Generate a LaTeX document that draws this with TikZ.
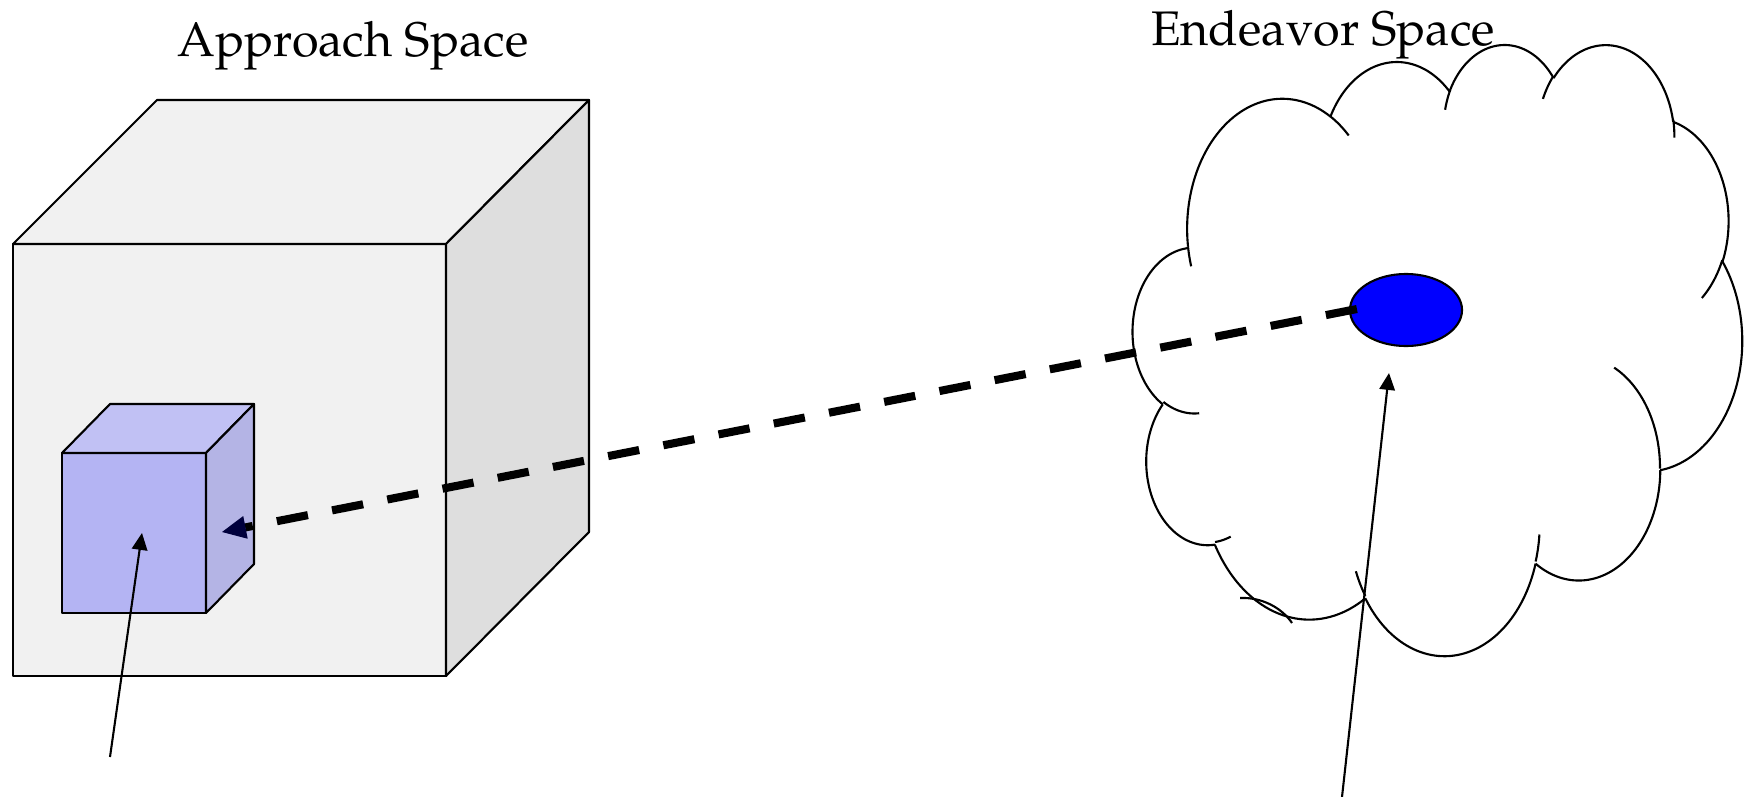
\documentclass[tikz,border=0pt]{standalone}
\usepackage[T1]{fontenc}
\usepackage{palatino}
\usetikzlibrary{arrows.meta,shapes.geometric,calc}

\definecolor{facefront}{gray}{0.945}
\definecolor{faceside}{gray}{0.87}
\definecolor{smallfront}{RGB}{180,180,243}
\definecolor{smalltop}{RGB}{193,193,244}
\definecolor{smallside}{RGB}{180,180,229}
\definecolor{tipnavy}{RGB}{0,0,60}

% Cloud outline: a chain of elliptical arcs on a 4320-unit grid.
% \cloudarc{x radius}{y radius}{start angle}{sweep}, angles measured
% as directions from the arc centre (y pointing down).
\newcommand\cloudfrom[2]{\xdef\cpx{#1}\xdef\cpy{#2}}
\newcommand\cloudarc[4]{%
  \pgfmathsetmacro\cta{atan2((#1)*sin(#3),(#2)*cos(#3))}%
  \pgfmathsetmacro\ccx{\cpx-(#1)*cos(\cta)}%
  \pgfmathsetmacro\ccy{\cpy-(#2)*sin(\cta)}%
  \pgfmathsetmacro\ctb{atan2((#1)*sin(#3+#4),(#2)*cos(#3+#4))}%
  \pgfmathsetmacro\ctb{\ctb+360*round((\cta+#4-\ctb)/360)}%
  \draw[cloudline] plot[domain=\cta:\ctb,samples=60,variable=\t]
     ({\ccx+(#1)*cos(\t)},{\ccy+(#2)*sin(\t)});
  \pgfmathsetmacro\cpx{\ccx+(#1)*cos(\ctb)}\xdef\cpx{\cpx}%
  \pgfmathsetmacro\cpy{\ccy+(#2)*sin(\ctb)}\xdef\cpy{\cpy}%
}

\begin{document}
\begin{tikzpicture}[x=0.01cm, y=-0.01cm,
  cubeedge/.style={line width=0.6pt, line join=round},
  cloudline/.style={line width=0.6pt},
  thinarrow/.style={line width=0.6pt,
    -{Triangle[length=4.8pt,width=4.4pt]}},
  dashedarrow/.style={line width=2.3pt, dash pattern=on 9pt off 7pt,
    -{Triangle[length=6.8pt,width=6.5pt,line width=0.3pt,color=tipnavy,fill=tipnavy]}},
  spacetitle/.style={font=\fontsize{13.8}{16}\selectfont, anchor=base, inner sep=0pt}]
\useasboundingbox (0,0) rectangle (1748,797);

% large grey cube
\draw[cubeedge, fill=facefront] (13,244) rectangle (446,676);
\draw[cubeedge, fill=facefront] (13,244) -- (157,100) -- (589,100) -- (446,244) -- cycle;
\draw[cubeedge, fill=faceside] (446,244) -- (589,100) -- (589,532) -- (446,676) -- cycle;

% small blue cube inside it
\draw[cubeedge, fill=smallfront] (62,453) rectangle (206,613);
\draw[cubeedge, fill=smalltop] (62,453) -- (110,404) -- (254,404) -- (206,453) -- cycle;
\draw[cubeedge, fill=smallside] (206,453) -- (254,404) -- (254,564) -- (206,613) -- cycle;

% cloud
\begin{scope}[shift={(1133,43)}, xscale=0.14097, yscale=0.14144]
  \cloudfrom{390}{1437}
  \cloudarc{675.3}{919.0}{-190.4875}{123.7805}
  \cloudarc{533.3}{726.7}{-144.1024}{89.9452}
  \cloudarc{436.5}{594.5}{-145.8079}{99.7230}
  \cloudarc{485.7}{659.5}{-130.9861}{117.2417}
  \cloudarc{533.3}{727.3}{-78.7089}{109.0269}
  \cloudarc{677.5}{922.0}{-46.2673}{130.2690}
  \cloudarc{578.5}{786.7}{0.6250}{114.0333}
  \cloudarc{675.2}{921.5}{22.4516}{115.1726}
  \cloudarc{772.0}{1054.3}{66.2426}{75.7110}
  \cloudarc{436.0}{591.8}{-274.9421}{146.7356}
  \cloudarc{434.5}{594.5}{-246.8285}{152.5189}
  % inner arcs
  \cloudfrom{469.3}{2617.7}\cloudarc{434.5}{594.5}{86.7420}{26.4295}
  \cloudfrom{692.8}{3489.9}\cloudarc{436.0}{591.8}{73.6105}{11.4475}
  \cloudfrom{1647.8}{3909.0}\cloudarc{675.2}{921.5}{137.6242}{14.0811}
  \cloudfrom{2882.7}{3475.1}\cloudarc{675.2}{921.5}{6.4533}{15.9984}
  \cloudfrom{3412.9}{2295.4}\cloudarc{578.5}{786.7}{-70.2924}{70.9174}
  \cloudfrom{4179.8}{1535.4}\cloudarc{533.3}{727.3}{30.3180}{27.7515}
  \cloudfrom{3832.4}{542.6}\cloudarc{485.7}{659.5}{-13.7443}{14.8589}
  \cloudfrom{2907.8}{395.2}\cloudarc{485.7}{659.5}{-149.1815}{18.1954}
  \cloudfrom{2214.1}{472.0}\cloudarc{436.5}{594.5}{-163.4943}{17.6864}
  \cloudfrom{1400.0}{519.2}\cloudarc{675.3}{919.0}{-66.7070}{12.3194}
  \cloudfrom{412.7}{1578.9}\cloudarc{675.3}{919.0}{157.6544}{11.8582}
\end{scope}
\draw[cloudline] (1240,598) .. controls (1262,597) and (1282,608) .. (1292,623);

% goal inside the cloud
\node[ellipse, draw, fill=blue, line width=0.6pt, minimum width=1.12cm,
      minimum height=0.72cm, inner sep=0pt] (goal) at (1406,310) {};

% connectors
\coordinate (dashtip) at (222,532);
\coordinate (cubefoot) at (110,757);
\coordinate (cubetip) at (142,533);
\coordinate (cloudfoot) at (1342,797);
\coordinate (cloudtip) at (1389,373);
\draw[dashedarrow] ($(goal.west)+(8,-1)$) -- (dashtip);
\draw[thinarrow] (cubefoot) -- (cubetip);
\draw[thinarrow] (cloudfoot) -- (cloudtip);

% titles
\node[spacetitle] (approach) at (353,57) {Approach Space};
\node[spacetitle] (endeavor) at (1323,45) {Endeavor Space};
\end{tikzpicture}
\end{document}
